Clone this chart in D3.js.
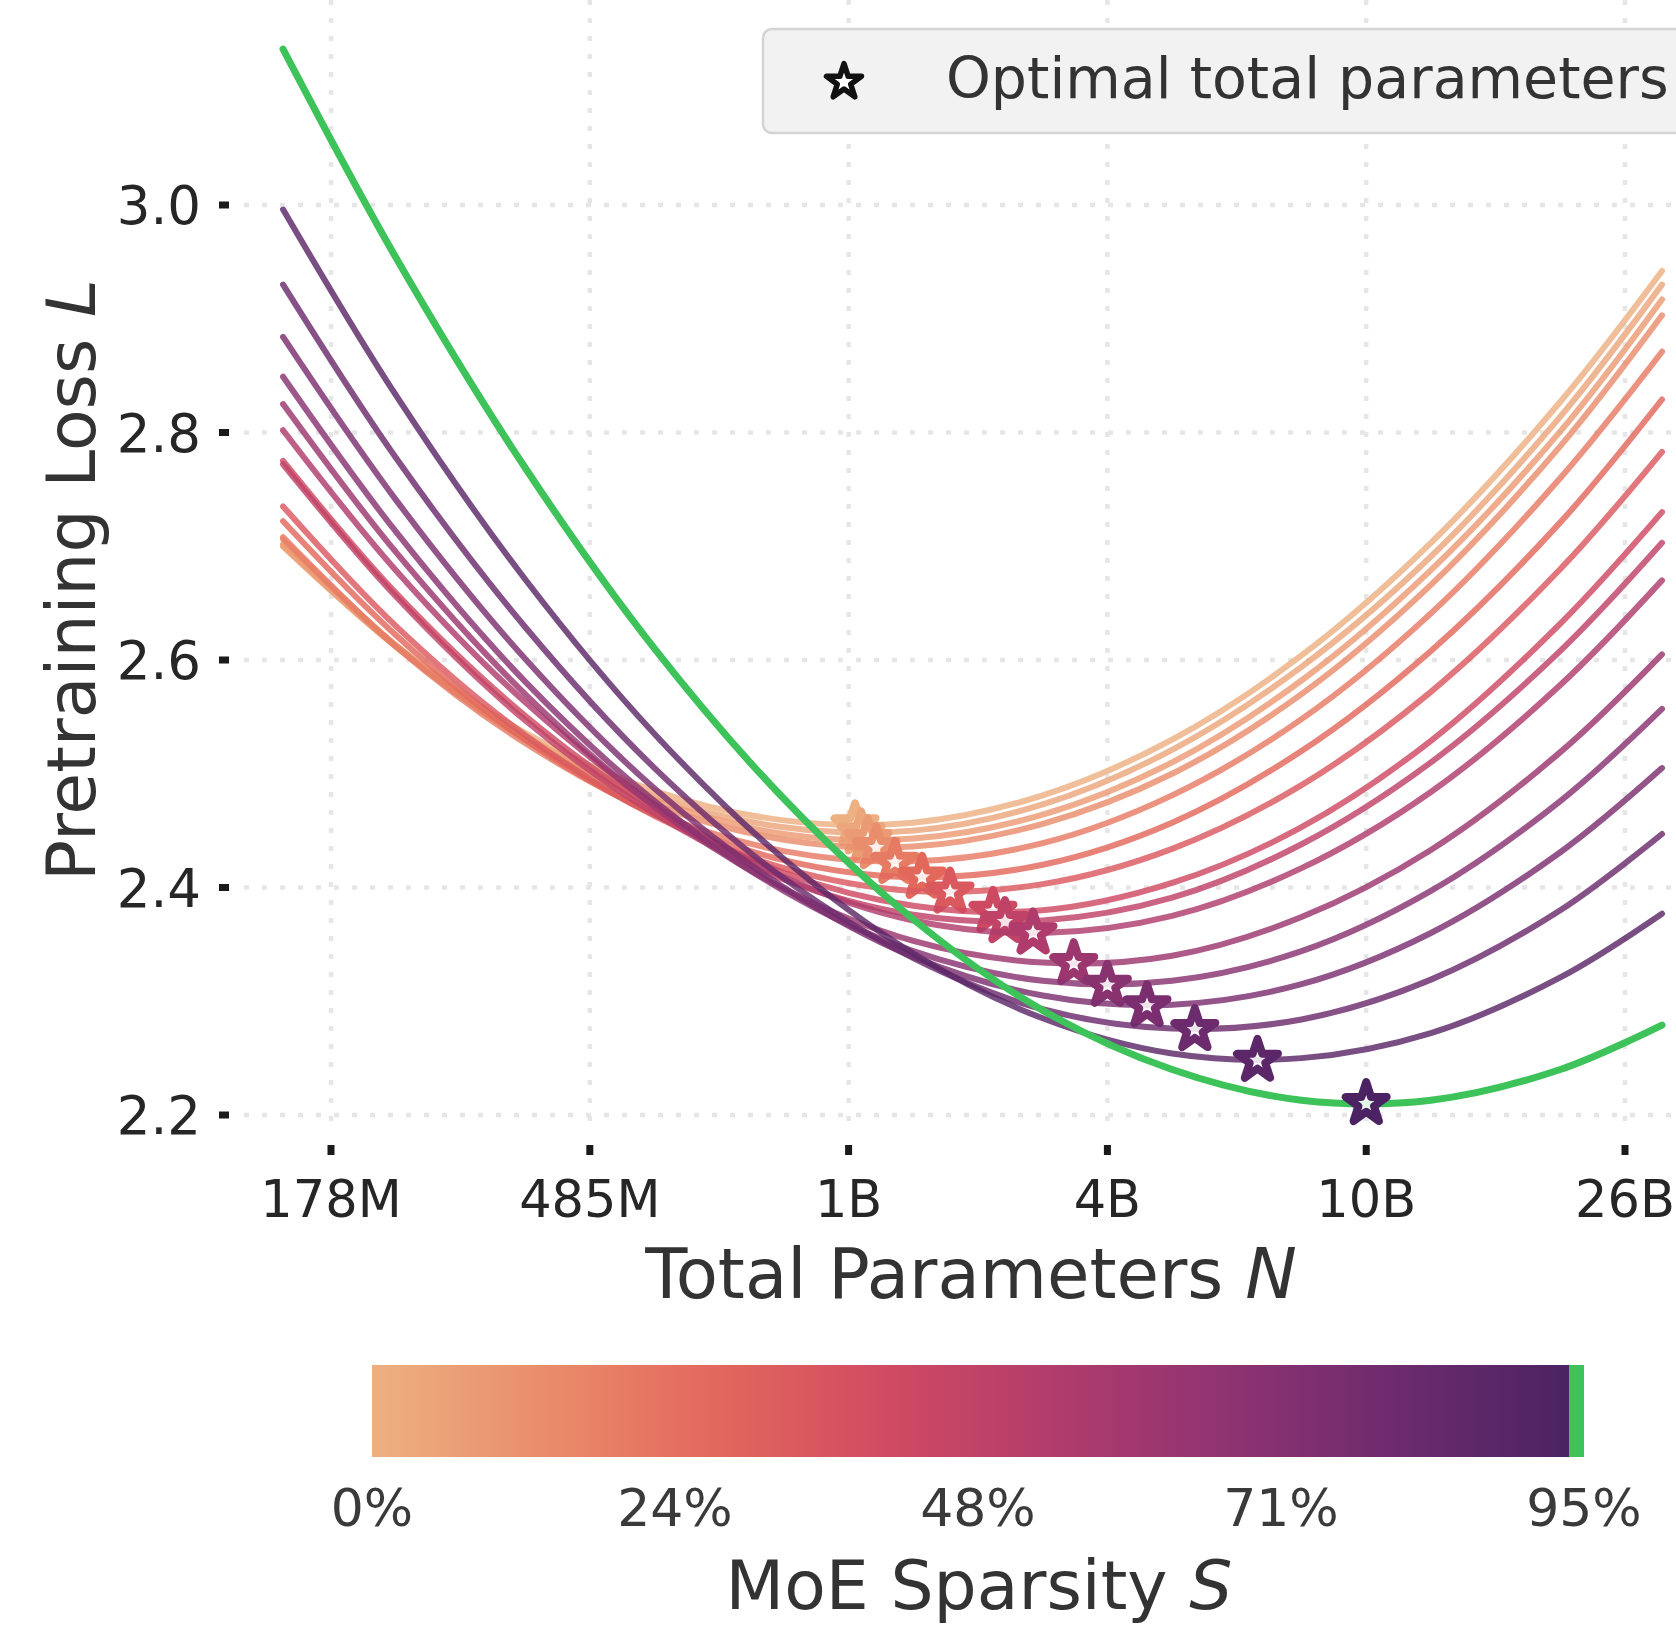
<!DOCTYPE html>
<html><head><meta charset="utf-8">
<script src="https://cdn.jsdelivr.net/npm/d3@7"></script>
<style>body{margin:0;background:#fff}svg{display:block}text{font-family:"DejaVu Sans",sans-serif}</style>
</head><body>
<svg id="chart" width="1676" height="1629"></svg>
<script>
// ---------------- data ----------------
// total parameters N (millions) at which each loss curve is sampled
const totalParamsM = [148.3, 229.2, 377.9, 623.0, 1027.1, 1693.3, 2791.9, 4603.0, 7589.2, 12512, 20630, 30560];
// MoE sparsity (%) of each curve
const sparsityPct = [0, 4, 8, 13, 20, 27, 34, 42, 48, 55, 63, 70, 76, 82, 88, 95];
// pretraining loss of each curve at totalParamsM
const loss_S0  = [2.700, 2.613, 2.536, 2.485, 2.459, 2.457, 2.481, 2.530, 2.604, 2.703, 2.827, 2.942];
const loss_S4  = [2.700, 2.612, 2.533, 2.480, 2.453, 2.450, 2.473, 2.521, 2.594, 2.691, 2.814, 2.930];
const loss_S8  = [2.702, 2.612, 2.531, 2.477, 2.447, 2.443, 2.464, 2.510, 2.582, 2.679, 2.801, 2.917];
const loss_S13 = [2.706, 2.613, 2.530, 2.473, 2.442, 2.436, 2.456, 2.500, 2.570, 2.666, 2.788, 2.903];
const loss_S20 = [2.708, 2.612, 2.527, 2.466, 2.432, 2.423, 2.439, 2.481, 2.548, 2.641, 2.760, 2.871];
const loss_S27 = [2.722, 2.622, 2.530, 2.464, 2.424, 2.409, 2.420, 2.457, 2.520, 2.608, 2.721, 2.829];
const loss_S34 = [2.735, 2.630, 2.534, 2.463, 2.417, 2.397, 2.403, 2.434, 2.490, 2.572, 2.680, 2.783];
const loss_S42 = [2.775, 2.659, 2.551, 2.469, 2.413, 2.384, 2.380, 2.404, 2.453, 2.529, 2.632, 2.730];
const loss_S48 = [2.772, 2.656, 2.547, 2.465, 2.407, 2.376, 2.371, 2.391, 2.438, 2.510, 2.608, 2.703];
const loss_S55 = [2.802, 2.679, 2.563, 2.473, 2.409, 2.371, 2.360, 2.375, 2.417, 2.484, 2.578, 2.670];
const loss_S63 = [2.825, 2.695, 2.570, 2.471, 2.399, 2.353, 2.334, 2.340, 2.374, 2.433, 2.519, 2.605];
const loss_S70 = [2.849, 2.713, 2.581, 2.476, 2.397, 2.344, 2.318, 2.318, 2.344, 2.397, 2.476, 2.557];
const loss_S76 = [2.884, 2.741, 2.601, 2.487, 2.400, 2.339, 2.305, 2.297, 2.315, 2.360, 2.431, 2.505];
const loss_S82 = [2.930, 2.778, 2.629, 2.505, 2.408, 2.338, 2.293, 2.276, 2.284, 2.319, 2.380, 2.447];
const loss_S88 = [2.996, 2.833, 2.671, 2.535, 2.425, 2.342, 2.285, 2.254, 2.250, 2.272, 2.321, 2.377];
const loss_S95 = [3.137, 2.954, 2.769, 2.610, 2.478, 2.372, 2.292, 2.240, 2.213, 2.213, 2.240, 2.279];
const lossCurves = [loss_S0, loss_S4, loss_S8, loss_S13, loss_S20, loss_S27, loss_S34, loss_S42,
                    loss_S48, loss_S55, loss_S63, loss_S70, loss_S76, loss_S82, loss_S88, loss_S95];
// optimal total parameters (stars)
const optimalParamsM = [1352, 1384, 1421, 1468, 1577, 1752, 1952, 2304, 2413, 2690, 3148, 3585, 4178, 5026, 6402, 9745];
const optimalLoss    = [2.455, 2.448, 2.442, 2.435, 2.422, 2.409, 2.396, 2.379, 2.370, 2.360, 2.333, 2.314, 2.296, 2.275, 2.248, 2.210];
// ticks
const xTickValues = [178.48, 485.17, 1318.8, 3584.9, 9744.8, 26489];
const xTickLabels = ["178M", "485M", "1B", "4B", "10B", "26B"];
const yTickValues = [2.2, 2.4, 2.6, 2.8, 3.0];
const cbarTickValues = [0, 23.75, 47.5, 71.25, 95];
const cbarTickLabels = ["0%", "24%", "48%", "71%", "95%"];
const flareColors = ["#edb081", "#e98d6b", "#e3685c", "#d14a61", "#b13c6c", "#8f3371", "#6c2b6d", "#4b2362"];
const highlightColor = "#3ec25a";

// ---------------- layout ----------------
const svg = d3.select("#chart");
const x = d3.scaleLog().domain([178.48, 26489]).range([331, 1625]);
const y = d3.scaleLinear().domain([2.2, 3.0]).range([1115, 205]);
const flare = d3.piecewise(d3.interpolateRgb, flareColors);
const color = s => flare(s / 95);
const textCol = "#333";

// grid
const grid = svg.append("g");
grid.selectAll("line.h").data(yTickValues).join("line")
  .attr("x1", 244).attr("x2", 1676).attr("y1", d => y(d)).attr("y2", d => y(d))
  .attr("stroke", "#e6e6e6").attr("stroke-width", 4.5).attr("stroke-dasharray", "5,13");
grid.selectAll("line.v").data(xTickValues).join("line")
  .attr("x1", d => x(d)).attr("x2", d => x(d)).attr("y1", 0).attr("y2", 1133)
  .attr("stroke", "#e6e6e6").attr("stroke-width", 4.5).attr("stroke-dasharray", "5,13");

// legend box
svg.append("rect").attr("x", 763).attr("y", 29).attr("width", 1000).attr("height", 104)
  .attr("rx", 9).attr("fill", "#f2f2f2").attr("stroke", "#d4d4d4").attr("stroke-width", 2.5);
svg.append("path").attr("d", d3.symbol(d3.symbolStar, 380)())
  .attr("transform", "translate(844,82)").attr("fill", "#fff").attr("stroke", "#111")
  .attr("stroke-width", 5.5).attr("stroke-linejoin", "round");
svg.append("text").attr("x", 946).attr("y", 98).attr("font-size", 57).attr("fill", textCol)
  .text("Optimal total parameters");

// axes ticks
const yAx = svg.append("g");
yAx.selectAll("rect").data(yTickValues).join("rect")
  .attr("x", 219).attr("y", d => y(d) - 3.5).attr("width", 10).attr("height", 7).attr("fill", "#1a1a1a");
yAx.selectAll("text").data(yTickValues).join("text")
  .attr("x", 201).attr("y", d => y(d)).attr("dy", "0.36em").attr("text-anchor", "end")
  .attr("font-size", 53).attr("fill", "#262626").text(d => d3.format(".1f")(d));
const xAx = svg.append("g");
xAx.selectAll("rect").data(xTickValues).join("rect")
  .attr("x", d => x(d) - 3.5).attr("y", 1145).attr("width", 7).attr("height", 10).attr("fill", "#1a1a1a");
xAx.selectAll("text").data(xTickValues).join("text")
  .attr("x", d => x(d)).attr("y", 1217).attr("text-anchor", "middle")
  .attr("font-size", 51).attr("fill", "#262626").text((d, i) => xTickLabels[i]);

// axis titles
const xt = svg.append("text").attr("x", 971).attr("y", 1298).attr("text-anchor", "middle")
  .attr("font-size", 69).attr("fill", textCol);
xt.append("tspan").text("Total Parameters ");
xt.append("tspan").attr("font-style", "italic").text("N");
const yt = svg.append("text").attr("transform", "translate(95,580) rotate(-90)").attr("text-anchor", "middle")
  .attr("font-size", 68).attr("fill", textCol);
yt.append("tspan").text("Pretraining Loss ");
yt.append("tspan").attr("font-style", "italic").text("L");

// curves + stars
const line = d3.line().x((d, i) => x(totalParamsM[i])).y(d => y(d)).curve(d3.curveCatmullRom.alpha(0.5));
const star = d3.symbol(d3.symbolStar, 520);
const plot = svg.append("g");
lossCurves.forEach((vals, k) => {
  const last = k === lossCurves.length - 1;
  plot.append("path").attr("d", line(vals)).attr("fill", "none")
    .attr("stroke", last ? highlightColor : color(sparsityPct[k]))
    .attr("stroke-width", last ? 7 : 6).attr("stroke-opacity", last ? 1 : 0.82)
    .attr("stroke-linecap", "round");
  plot.append("path").attr("d", star())
    .attr("transform", `translate(${x(optimalParamsM[k])},${y(optimalLoss[k])})`)
    .attr("fill", "#fff").attr("fill-opacity", 0.85)
    .attr("stroke", color(sparsityPct[k])).attr("stroke-width", 8).attr("stroke-linejoin", "round");
});

// colorbar
const cb = d3.scaleLinear().domain([0, 95]).range([372, 1584]);
const defs = svg.append("defs");
const grad = defs.append("linearGradient").attr("id", "flare").attr("x1", "0%").attr("x2", "100%");
d3.range(0, 1.0001, 0.05).forEach(t => grad.append("stop").attr("offset", `${t * 100}%`).attr("stop-color", flare(t)));
svg.append("rect").attr("x", cb(0)).attr("y", 1365).attr("width", 1569 - cb(0)).attr("height", 92).attr("fill", "url(#flare)");
svg.append("rect").attr("x", 1569).attr("y", 1365).attr("width", cb(95) - 1569).attr("height", 92).attr("fill", highlightColor);
svg.selectAll("text.cbt").data(cbarTickValues).join("text").attr("class", "cbt")
  .attr("x", d => cb(d)).attr("y", 1526).attr("text-anchor", "middle")
  .attr("font-size", 52).attr("fill", "#3a3a3a").text((d, i) => cbarTickLabels[i]);
const ct = svg.append("text").attr("x", 979).attr("y", 1609).attr("text-anchor", "middle")
  .attr("font-size", 68).attr("fill", textCol);
ct.append("tspan").text("MoE Sparsity ");
ct.append("tspan").attr("font-style", "italic").text("S");
</script>
</body></html>
